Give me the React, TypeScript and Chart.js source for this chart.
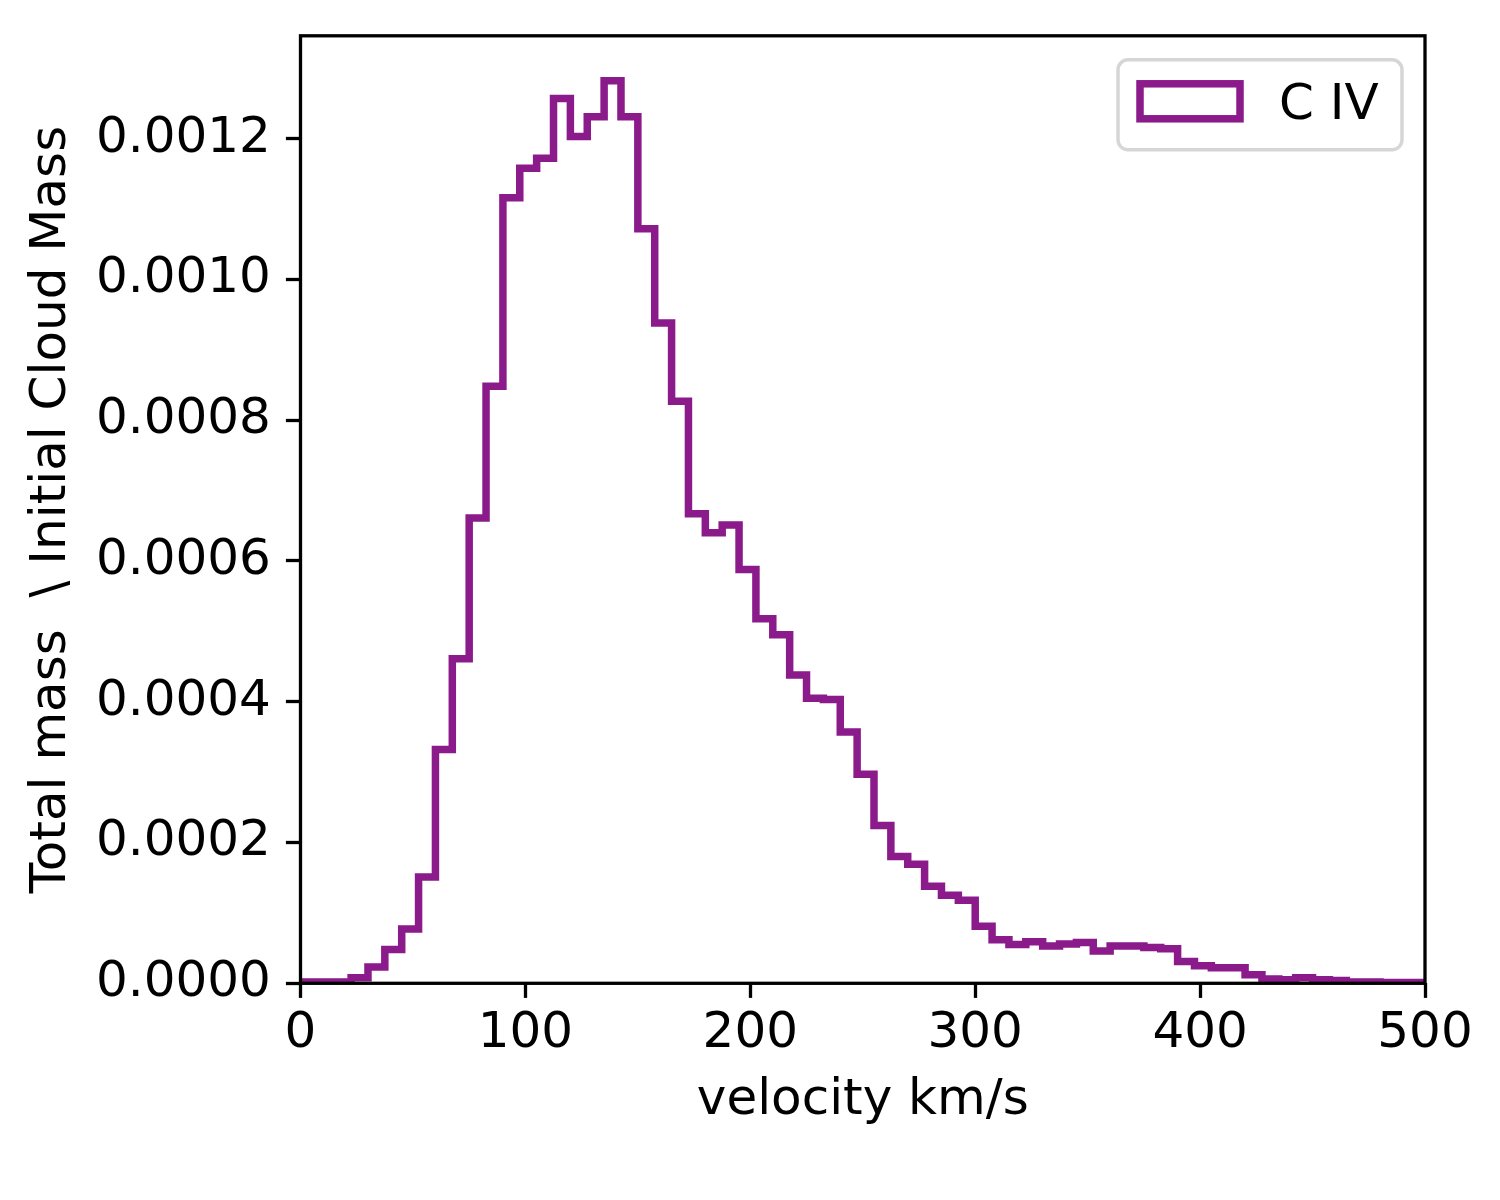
import { useEffect, useRef } from 'react';
import { Chart, registerables } from 'chart.js';

Chart.register(...registerables);

// histogram of C IV mass by velocity, bins of 7.5 km/s starting at 0
const binWidth = 7.5;
const binValues = [
  0.000002, 0.000002, 0.000002, 0.000008, 0.000023, 0.000048, 0.000077, 0.000151,
  0.000332, 0.000461, 0.000661, 0.000848, 0.001116, 0.001158, 0.001172, 0.001257,
  0.001203, 0.001231, 0.001282, 0.001231, 0.001072, 0.000938, 0.000827, 0.000667,
  0.00064, 0.000651, 0.000588, 0.000518, 0.000495, 0.000438, 0.000405, 0.000403,
  0.000357, 0.000297, 0.000224, 0.00018, 0.000169, 0.000138, 0.000125, 0.000118,
  0.000081, 0.000062, 0.000055, 0.000059, 0.000053, 0.000056, 0.000058, 0.000046,
  0.000053, 0.000053, 0.000051, 0.000049, 0.000031, 0.000025, 0.000022, 0.000022,
  0.000012, 0.000006, 0.000005, 0.000008, 0.000005, 0.000004, 0.000002, 0.000002,
  0.000001, 0.000001, 0.000001,
];
const xTicks = [0, 100, 200, 300, 400, 500];
const yTicks = [0, 0.0002, 0.0004, 0.0006, 0.0008, 0.001, 0.0012];
const seriesLabel = 'C IV';
const xTitle = 'velocity km/s';
const yTitle = 'Total mass  \\ Initial Cloud Mass';

const FONT = "'DejaVu Sans', sans-serif";
const PURPLE = '#8b1a8b';
const SPINE = 3.3;

// outer frame drawn over the data, like matplotlib spines
const framePlugin = {
  id: 'frame',
  afterDatasetsDraw(chart: any) {
    const { ctx, chartArea } = chart;
    ctx.save();
    ctx.strokeStyle = '#000';
    ctx.lineWidth = SPINE;
    ctx.lineJoin = 'miter';
    ctx.strokeRect(chartArea.left, chartArea.top, chartArea.right - chartArea.left, chartArea.bottom - chartArea.top);
    ctx.restore();
  },
};

const legendPlugin = {
  id: 'histLegend',
  afterDraw(chart: any) {
    const { ctx, chartArea } = chart;
    const ds = chart.data.datasets[0];
    const fx = chartArea.right - 307;
    const fy = chartArea.top + 24;
    ctx.save();
    ctx.beginPath();
    ctx.roundRect(fx, fy, 284, 90, 10);
    ctx.fillStyle = '#fff';
    ctx.fill();
    ctx.strokeStyle = '#d6d6d6';
    ctx.lineWidth = 3.5;
    ctx.stroke();

    ctx.strokeStyle = ds.borderColor;
    ctx.lineWidth = ds.borderWidth;
    ctx.lineJoin = 'miter';
    ctx.strokeRect(fx + 22, fy + 24, 100, 35);

    ctx.fillStyle = '#000';
    ctx.font = `50px ${FONT}`;
    ctx.textAlign = 'left';
    ctx.textBaseline = 'alphabetic';
    ctx.fillText(ds.label, fx + 161, fy + 59.5);
    ctx.restore();
  },
};

export default function App() {
  const canvasRef = useRef<HTMLCanvasElement>(null);

  useEffect(() => {
    if (canvasRef.current === null) return;
    const ctx = canvasRef.current.getContext('2d');
    if (ctx === null) return;

    const points = binValues.map((v, i) => ({ x: i * binWidth, y: v }));
    points.push({ x: binValues.length * binWidth, y: binValues[binValues.length - 1] });

    const tickFont = { family: FONT, size: 50, lineHeight: 1.2 };

    const chart = new Chart(ctx, {
      type: 'line',
      data: {
        datasets: [{
          label: seriesLabel,
          data: points,
          borderColor: PURPLE,
          backgroundColor: 'rgba(0,0,0,0)',
          borderWidth: 7.5,
          borderJoinStyle: 'miter',
          borderCapStyle: 'butt',
          fill: false,
          stepped: 'before',
          pointRadius: 0,
          clip: 0,
        }],
      },
      options: {
        animation: false,
        responsive: false,
        devicePixelRatio: 1,
        events: [],
        layout: { padding: { left: 0, top: 35.8, right: 75, bottom: 0 } },
        plugins: {
          legend: { display: false },
          tooltip: { enabled: false },
        },
        scales: {
          x: {
            type: 'linear',
            min: 0,
            max: 500,
            afterBuildTicks: (scale: any) => { scale.ticks = xTicks.map((value) => ({ value })); },
            afterFit: (scale: any) => {
              scale.height = 216.7;
              scale.paddingLeft = 0;
              scale.paddingRight = 0;
            },
            border: { display: false },
            grid: {
              drawOnChartArea: false,
              drawTicks: true,
              tickLength: 14.6,
              tickWidth: SPINE,
              tickColor: '#000',
            },
            ticks: {
              color: '#000',
              font: tickFont,
              padding: 6.5,
              autoSkip: false,
              maxRotation: 0,
              callback: (v: any) => String(v),
            },
            title: {
              display: true,
              text: xTitle,
              color: '#000',
              font: tickFont,
              padding: { top: 0, bottom: 69 },
            },
          },
          y: {
            type: 'linear',
            min: 0,
            max: 0.001346,
            afterBuildTicks: (scale: any) => { scale.ticks = yTicks.map((value) => ({ value })); },
            afterFit: (scale: any) => {
              scale.width = 300.5;
              scale.paddingTop = 0;
              scale.paddingBottom = 0;
            },
            border: { display: false },
            grid: {
              drawOnChartArea: false,
              drawTicks: true,
              tickLength: 14.6,
              tickWidth: SPINE,
              tickColor: '#000',
            },
            ticks: {
              color: '#000',
              font: tickFont,
              padding: 15,
              callback: (v: any) => Number(v).toFixed(4),
            },
            title: {
              display: true,
              text: yTitle,
              color: '#000',
              font: tickFont,
              padding: { top: 22, bottom: 0 },
            },
          },
        },
      },
      plugins: [framePlugin, legendPlugin],
    } as any);

    return () => {
      chart.destroy();
    };
  }, []);

  return (
    <div style={{ position: 'absolute', left: 0, top: 0, width: 1500, height: 1200, background: '#fff' }}>
      <canvas ref={canvasRef} width={1500} height={1200}></canvas>
    </div>
  );
}
